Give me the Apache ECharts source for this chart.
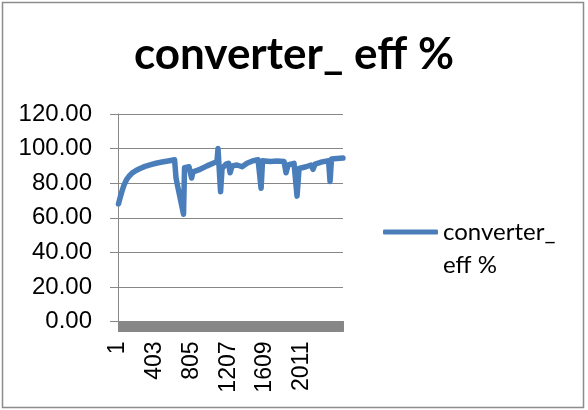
<!DOCTYPE html>
<html>
<head>
<meta charset="utf-8">
<script src="https://cdn.jsdelivr.net/npm/echarts@6/dist/echarts.min.js"></script>
<style>
html,body{margin:0;padding:0;background:#fff;}
#chart{width:588px;height:410px;}
</style>
</head>
<body>
<div id="chart"></div>
<script>
// ---- data ----
const seriesName = 'converter_ eff %';
const sampleCount = 2460;
const xTickLabels = ['1', '403', '805', '1207', '1609', '2011'];
const yTickValues = [0, 20, 40, 60, 80, 100, 120];
// sample numbers (0-based position in the record) of the line's vertices
const sampleIdx = [5, 22, 44, 66, 93, 120, 153, 197, 241, 295, 350, 415, 481, 547, 618,
  634, 645, 716, 727, 776, 804, 820, 897, 973, 1039, 1082, 1093, 1121, 1137, 1181,
  1208, 1225, 1247, 1301, 1356, 1410, 1476, 1531, 1564, 1580, 1662, 1738, 1815, 1837,
  1859, 1924, 1957, 1979, 2056, 2110, 2132, 2154, 2231, 2302, 2318, 2334, 2394, 2459];
// converter efficiency (%) at those samples
const effValues = [68, 71.5, 75.5, 79, 82, 84, 85.8, 87.3, 88.5, 89.7, 90.6, 91.5, 92.2, 92.8, 93.5,
  83, 80, 62, 89, 89.5, 83, 86.5, 88, 90, 91.5, 92.5, 100, 75, 88.5, 91,
  91.5, 86, 90, 90.5, 89.5, 91.5, 93, 93.5, 77, 93, 92.5, 92.8, 92.5, 86,
  90.5, 91.5, 72.5, 88.5, 89.5, 90.5, 88, 91, 92.3, 93, 81, 94, 94.3, 94.5];

const categories = [];
for (let i = 1; i <= sampleCount; i++) categories.push(String(i));
const lineData = sampleIdx.map((s, k) => [s, effValues[k]]);

const gray = '#878787';
const chart = echarts.init(document.getElementById('chart'), null, {renderer: 'canvas'});
chart.setOption({
  animation: false,
  backgroundColor: '#ffffff',
  title: {
    text: seriesName,
    left: 'center',
    top: 28,
    textStyle: {fontFamily: 'Lato', fontWeight: 'bold', fontSize: 44, color: '#000'}
  },
  legend: {
    data: [seriesName],
    left: 378,
    top: 177.5,
    itemWidth: 55,
    itemHeight: 5,
    itemGap: 0,
    icon: 'roundRect',
    // wrapped like the reference; the leading blank line keeps the key beside the first line
    formatter: n => '\n' + n.replace('_ ', '_\n'),
    textStyle: {fontFamily: 'Lato', fontSize: 24, color: '#000', lineHeight: 33}
  },
  grid: {left: 118, right: 245, top: 114, bottom: 88.5, containLabel: false},
  xAxis: {
    type: 'category',
    data: categories,
    boundaryGap: true,
    axisLine: {show: true, lineStyle: {color: gray, width: 1}},
    axisTick: {show: true, interval: 0, length: 10, lineStyle: {color: gray, width: 1}},
    axisLabel: {
      rotate: 90,
      margin: 20,
      interval: (i, v) => xTickLabels.indexOf(v) >= 0,
      fontFamily: 'Liberation Sans',
      fontSize: 23,
      color: '#000'
    },
    splitLine: {show: false}
  },
  yAxis: {
    type: 'value',
    min: yTickValues[0],
    max: yTickValues[yTickValues.length - 1],
    interval: yTickValues[1] - yTickValues[0],
    axisLine: {show: true, lineStyle: {color: gray, width: 1}},
    axisTick: {show: true, length: 8, lineStyle: {color: gray}},
    axisLabel: {
      margin: 26,
      formatter: v => v.toFixed(2),
      fontFamily: 'Liberation Sans',
      fontSize: 24,
      color: '#000'
    },
    splitLine: {show: true, lineStyle: {color: gray, width: 1}}
  },
  graphic: [{
    type: 'rect',
    shape: {x: 2.5, y: 2.5, width: 581, height: 405},
    style: {fill: 'none', stroke: '#8c8c8c', lineWidth: 1.5},
    silent: true,
    z: 100
  }],
  series: [{
    name: seriesName,
    type: 'line',
    data: lineData,
    showSymbol: false,
    symbol: 'none',
    sampling: 'none',
    lineStyle: {color: '#4a7ebb', width: 5.5, cap: 'round', join: 'round'},
    itemStyle: {color: '#4a7ebb'}
  }]
});
</script>
</body>
</html>
